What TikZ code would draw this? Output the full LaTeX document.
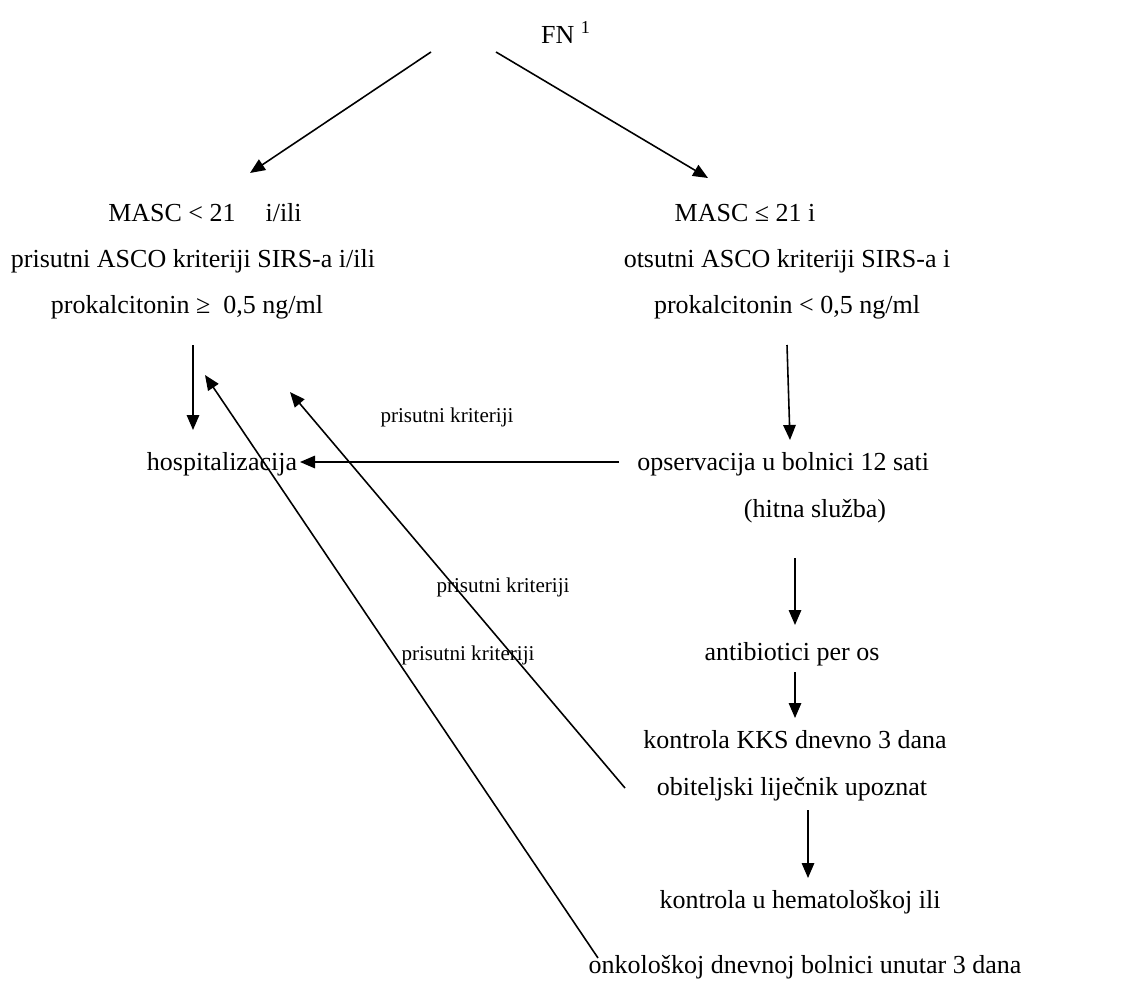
\documentclass[tikz,border=0pt]{standalone}
\usepackage{fontspec}
\setmainfont{Liberation Serif}
\usetikzlibrary{arrows.meta}

\begin{document}
\begin{tikzpicture}[x=0.02cm,y=-0.02cm,
		txt/.style={anchor=base,inner sep=0pt,font=\fontsize{14.8pt}{18pt}\selectfont},
		lbl/.style={anchor=base,inner sep=0pt,font=\fontsize{12pt}{14pt}\selectfont},
		arr/.style={-{Triangle[length=0.3cm,width=0.25cm]},line width=0.9pt}]
	\useasboundingbox (0,0) rectangle (1131,987);
	\node[txt] (fn) at (566,43) {FN \textsuperscript{1}};
	% left branch
	\node[txt] (lmasc) at (205,221) {MASC < 21\hspace{0.9em} i/ili};
	\node[txt] (lasco) at (193,267) {prisutni ASCO kriteriji SIRS-a i/ili};
	\node[txt] (lpct) at (187,313) {prokalcitonin ≥\ \ 0,5 ng/ml};
	\node[txt] (hosp) at (222,470) {hospitalizacija};
	% right branch
	\node[txt] (rmasc) at (745,221) {MASC ≤ 21 i};
	\node[txt] (rasco) at (787,267) {otsutni ASCO kriteriji SIRS-a i};
	\node[txt] (rpct) at (787,313) {prokalcitonin < 0,5 ng/ml};
	\node[txt,anchor=base west] (obs) at (637,470) {opservacija u bolnici 12 sati};
	\node[txt] (obs2) at (815,517) {(hitna služba)};
	\node[txt] (abx) at (792,660) {antibiotici per os};
	\node[txt] (kks) at (795,748) {kontrola KKS dnevno 3 dana};
	\node[txt] (gp) at (792,795) {obiteljski liječnik upoznat};
	\node[txt] (ctrl) at (800,908) {kontrola u hematološkoj ili};
	\node[txt] (ctrl2) at (805,973) {onkološkoj dnevnoj bolnici unutar 3 dana};
	% labels
	\node[lbl] (lbla) at (447,422) {prisutni kriteriji};
	\node[lbl] (lblb) at (503,592) {prisutni kriteriji};
	\node[lbl] (lblc) at (468,660) {prisutni kriteriji};
	% arrows
	\draw[arr] ([shift={(-135,9)}]fn.base) -- ([shift={(45,-48)}]lmasc.base);
	\draw[arr] ([shift={(-70,9)}]fn.base) -- ([shift={(-37,-43)}]rmasc.base);
	\draw[arr] ([shift={(6,32)}]lpct.base) -- ([shift={(-29,-40)}]hosp.base);
	\draw[arr] ([shift={(0,32)}]rpct.base) -- ([shift={(153,-30)}]obs.base west);
	\draw[arr] ([shift={(-18,-8)}]obs.base west) -- ([shift={(78,-8)}]hosp.base);
	\draw[arr] ([shift={(-20,41)}]obs2.base) -- ([shift={(3,-35)}]abx.base);
	\draw[arr] ([shift={(3,12)}]abx.base) -- ([shift={(0,-30)}]kks.base);
	\draw[arr] ([shift={(16,15)}]gp.base) -- ([shift={(8,-30)}]ctrl.base);
	\draw[arr] ([shift={(-167,-7)}]gp.base) -- ([shift={(68,-78)}]hosp.base);
	\draw[arr] ([shift={(-207,-15)}]ctrl2.base) -- ([shift={(-17,-95)}]hosp.base);
\end{tikzpicture}
\end{document}
